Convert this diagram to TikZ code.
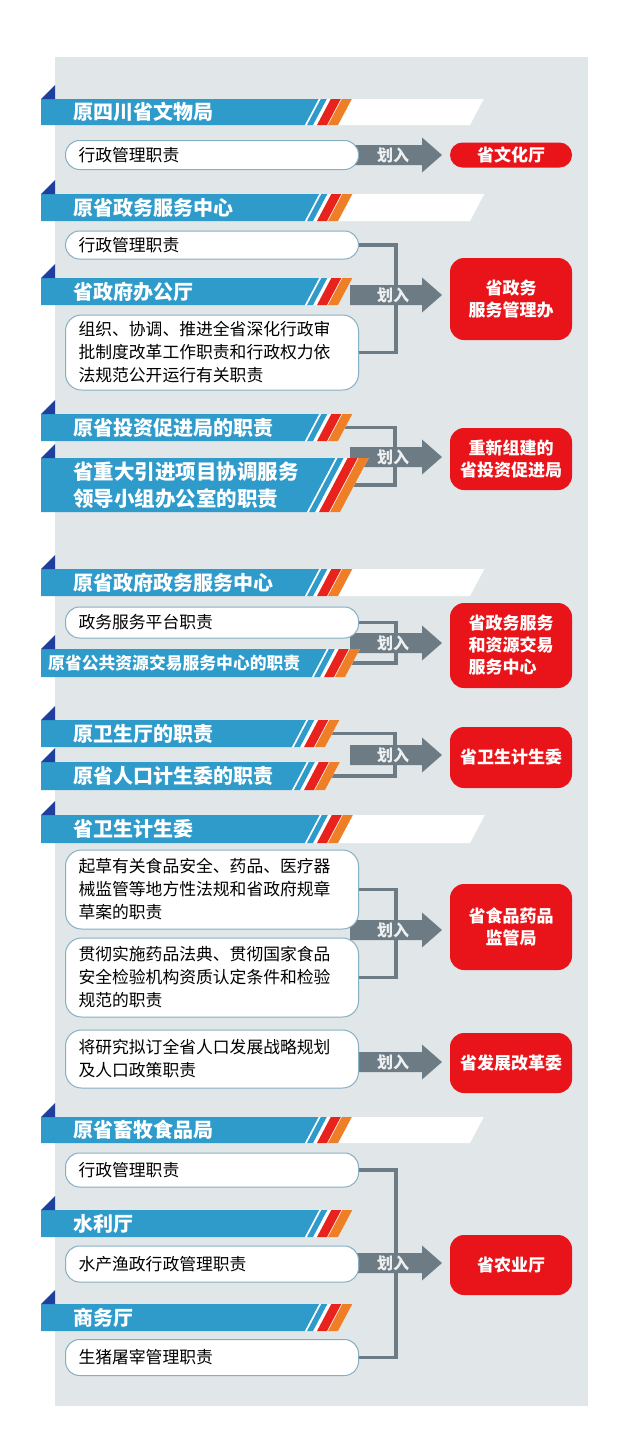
\documentclass[tikz,border=0pt]{standalone}
\usepackage{fontspec}
\setmainfont{Noto Sans CJK SC}
\usepackage{tikz}
\usetikzlibrary{calc}
\definecolor{bggray}{HTML}{E1E6E8}
\definecolor{barblue}{HTML}{2F9BCB}
\definecolor{tridark}{HTML}{1F3F9F}
\definecolor{stripered}{HTML}{E8231D}
\definecolor{stripeorange}{HTML}{EF7F27}
\definecolor{targetred}{HTML}{E9141A}
\definecolor{arrowgray}{HTML}{6C7B84}
\definecolor{pillline}{HTML}{86AEC4}
\definecolor{huarutext}{HTML}{EEF1F2}
\pgfdeclarelayer{bg}
\pgfdeclarelayer{conn}
\pgfdeclarelayer{arr}
\pgfsetlayers{bg,conn,arr,main}
\tikzset{>=latex}
\tikzset{
  hdr/.style={anchor=west, inner sep=0pt, text=white, font=\fontsize{20}{27}\selectfont\bfseries},
  pill/.style={draw=pillline, line width=1pt, fill=white, rounded corners=14pt, anchor=west,
    minimum width=293pt, inner xsep=13pt, inner ysep=0pt, text width=267pt, align=left,
    font=\fontsize{16.8}{23}\selectfont},
  target/.style={fill=targetred, rounded corners=14pt, minimum width=122pt, inner sep=0pt,
    text=white, align=center, font=\fontsize{17}{22}\selectfont\bfseries},
  huaru/.style={text=huarutext, inner sep=0pt, font=\fontsize{16}{16}\selectfont\bfseries},
  conn/.style={draw=arrowgray, line width=3.3pt}
}
\newcommand{\hdrbar}[3]{%
  \pgfmathsetmacro\hdsl{0.53*(#2-#1)}
  \fill[barblue] (41,#1) -- ({#3+\hdsl},#1) -- (#3,#2) -- (41,#2) -- cycle;
  \fill[tridark] (41,#1) -- (55,{#1-14}) -- (55,#1) -- cycle;
  \fill[white] ({#3+\hdsl},#1) -- ({#3+33+\hdsl},#1) -- ({#3+33},#2) -- (#3,#2) -- cycle;
  \fill[barblue] ({#3+2+\hdsl},#1) -- ({#3+8+\hdsl},#1) -- ({#3+8},#2) -- ({#3+2},#2) -- cycle;
  \fill[stripered] ({#3+12+\hdsl},#1) -- ({#3+22+\hdsl},#1) -- ({#3+22},#2) -- ({#3+12},#2) -- cycle;
  \fill[stripeorange] ({#3+23+\hdsl},#1) -- ({#3+33+\hdsl},#1) -- ({#3+33},#2) -- ({#3+23},#2) -- cycle;
}
\newcommand{\hdrtail}[3]{%
  \pgfmathsetmacro\hdsl{0.53*(#2-#1)}
  \fill[white] ({#3+33.5+\hdsl},#1) -- ({#3+165+\hdsl},#1) -- ({#3+165},#2) -- ({#3+33.5},#2) -- cycle;
}

\begin{document}
\begin{tikzpicture}[x=1pt,y=-1pt]
\useasboundingbox (0,0) rectangle (640,1443);
\begin{pgfonlayer}{bg}
\fill[bggray] (55,57) rectangle (588,1406);
\end{pgfonlayer}

\hdrbar{99}{125}{305} \hdrtail{99}{125}{305}
\node[hdr] (h1) at (73,112) {原四川省文物局};
\node[pill, minimum height=29pt] (p1) at (65,155) {行政管理职责};
\node[target, minimum height=25pt, rounded corners=12.5pt] (t1) at (511,155) {省文化厅};

\hdrbar{194}{221}{305} \hdrtail{194}{221}{305}
\node[hdr] (h2) at (73,207.5) {原省政务服务中心};
\node[pill, minimum height=28pt] (p2) at (65,245) {行政管理职责};
\hdrbar{278}{305}{305}
\node[hdr] (h3) at (73,291.5) {省政府办公厅};
\node[pill, minimum height=75pt, rounded corners=16pt] (p3) at (65,352.5) {组织、协调、推进全省深化行政审\\批制度改革工作职责和行政权力依\\法规范公开运行有关职责};
\node[target, minimum height=82pt] (t2) at (511,299) {省政务\\服务管理办};

\hdrbar{414}{441}{305}
\node[hdr] (h4) at (73,427.5) {原省投资促进局的职责};
\coordinate (c4) at (344,427.5);
\hdrbar{458}{512}{307}
\node[hdr, align=left, font=\fontsize{20.5}{27}\selectfont\bfseries] (h5) at (73,485) {省重大引进项目协调服务\\领导小组办公室的职责};
\coordinate (c5) at (350,485);
\node[target, minimum height=62pt] (t3) at (511,459) {重新组建的\\省投资促进局};

\hdrbar{569}{596}{305} \hdrtail{569}{596}{305}
\node[hdr] (h6) at (73,582.5) {原省政府政务服务中心};
\node[pill, minimum height=31pt] (p4) at (65,622.5) {政务服务平台职责};
\hdrbar{649}{677}{312}
\node[hdr, font=\fontsize{16.8}{20}\selectfont\bfseries] (h7) at (48,663) {原省公共资源交易服务中心的职责};
\coordinate (c7) at (350,663);
\node[target, minimum height=85pt, align=left] (t4) at (511,645.5) {省政务服务\\和资源交易\\服务中心};

\hdrbar{720}{747}{292}
\node[hdr] (h8) at (73,733.5) {原卫生厅的职责};
\coordinate (c8) at (331,733.5);
\hdrbar{762}{790}{292}
\node[hdr] (h9) at (73,776) {原省人口计生委的职责};
\coordinate (c9) at (331,776);
\node[target, minimum height=61pt] (t5) at (511,757.5) {省卫生计生委};

\hdrbar{815}{843}{305} \hdrtail{815}{843}{305}
\node[hdr] (h10) at (73,829) {省卫生计生委};
\node[pill, minimum height=79pt, rounded corners=16pt] (p5) at (65,889.5) {起草有关食品安全、药品、医疗器\\械监管等地方性法规和省政府规章\\草案的职责};
\node[pill, minimum height=79pt, rounded corners=16pt] (p6) at (65,977.5) {贯彻实施药品法典、贯彻国家食品\\安全检验机构资质认定条件和检验\\规范的职责};
\node[target, minimum height=86pt] (t6) at (511,927) {省食品药品\\监管局};
\node[pill, minimum height=58pt, rounded corners=16pt] (p7) at (65,1059) {将研究拟订全省人口发展战略规划\\及人口政策职责};
\node[target, minimum height=60pt] (t7) at (511,1063) {省发展改革委};

\hdrbar{1117}{1143}{305} \hdrtail{1117}{1143}{305}
\node[hdr] (h11) at (73,1130) {原省畜牧食品局};
\node[pill, minimum height=34pt] (p8) at (65,1170) {行政管理职责};
\hdrbar{1210}{1237}{305}
\node[hdr] (h12) at (73,1223.5) {水利厅};
\node[pill, minimum height=36pt] (p9) at (65,1264) {水产渔政行政管理职责};
\hdrbar{1304}{1331}{305}
\node[hdr] (h13) at (73,1317.5) {商务厅};
\node[pill, minimum height=36pt] (p10) at (65,1357.5) {生猪屠宰管理职责};
\node[target, minimum height=60pt] (t8) at (511,1265) {省农业厅};

\begin{pgfonlayer}{conn}
\draw[conn] (p2.east) -- ++(37,0) |- (p3.east);
\draw[conn] (c4) -- ++(51,0) |- (c5);
\draw[conn] (p4.east) -- ++(37,0) |- (c7);
\draw[conn] (c8) -- ++(64,0) |- (c9);
\draw[conn] (p5.east) -- ++(37,0) |- (p6.east);
\draw[conn] (p8.east) -- ++(37,0) |- (p10.east);
\end{pgfonlayer}

\begin{pgfonlayer}{arr}
\foreach \y/\n in {155/a1,295/a2,457/a3,643/a4,755/a5,930/a6,1062/a7,1263/a8}{
  \fill[arrowgray] (350,{\y-10}) -- (422,{\y-10}) -- (422,{\y-17.5}) -- (442,\y)
    -- (422,{\y+17.5}) -- (422,{\y+10}) -- (350,{\y+10}) -- cycle;
  \node[huaru] (\n) at (393,\y) {划入};
}
\end{pgfonlayer}
\end{tikzpicture}
\end{document}
